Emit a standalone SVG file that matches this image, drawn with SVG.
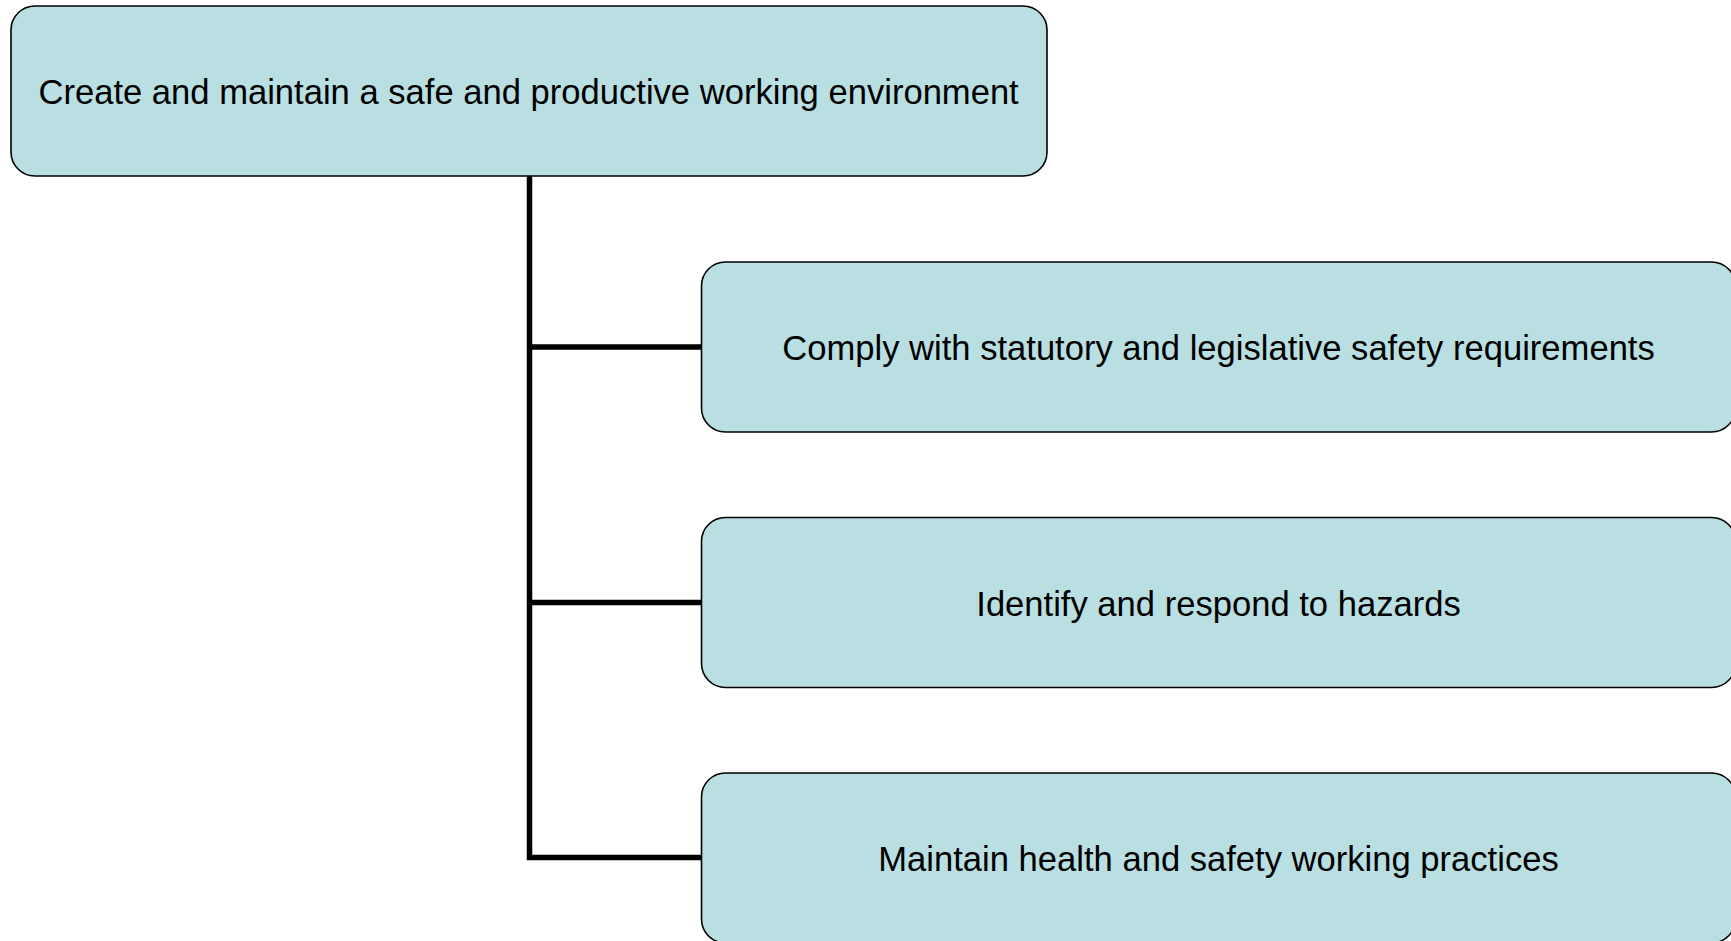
<svg xmlns="http://www.w3.org/2000/svg" width="1731" height="941" viewBox="0 0 1731 941">
<style>
.box{fill:#B9DFE2;stroke:#000;stroke-width:1.6}
.lbl{font-family:"Liberation Sans",Arial,sans-serif;font-size:34.6px;fill:#000;text-anchor:middle}
.conn{fill:none;stroke:#000;stroke-width:5.5}
</style>
<rect width="1731" height="941" fill="#fff"/>
<g id="connectors">
<path class="conn" d="M529.5,176 V857.5 H702"/>
<path class="conn" d="M529.5,347 H702"/>
<path class="conn" d="M529.5,602.5 H702"/>
</g>
<g id="root">
<rect class="box" x="11" y="6" width="1036" height="170" rx="24"/>
<text class="lbl" x="528.6" y="104.4">Create and maintain a safe and productive working environment</text>
</g>
<g id="child1">
<rect class="box" x="701.5" y="262" width="1034" height="170" rx="24"/>
<text class="lbl" x="1218.5" y="360.3">Comply with statutory and legislative safety requirements</text>
</g>
<g id="child2">
<rect class="box" x="701.5" y="517.5" width="1034" height="170" rx="24"/>
<text class="lbl" x="1218.5" y="616">Identify and respond to hazards</text>
</g>
<g id="child3">
<rect class="box" x="701.5" y="773" width="1034" height="170" rx="24"/>
<text class="lbl" x="1218.5" y="871.3">Maintain health and safety working practices</text>
</g>
</svg>
